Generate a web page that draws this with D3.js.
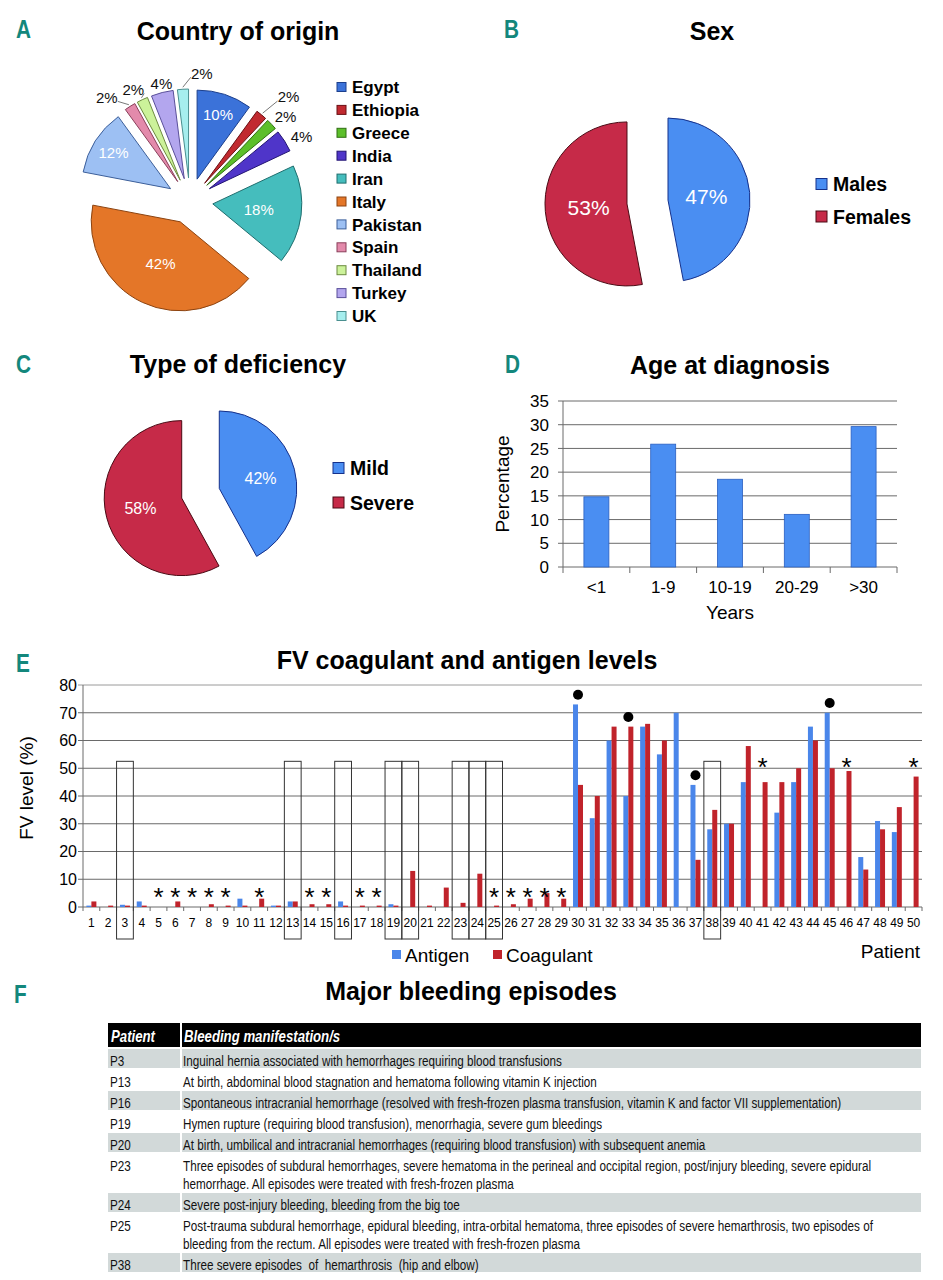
<!DOCTYPE html>
<html>
<head>
<meta charset="utf-8">
<script src="https://cdn.jsdelivr.net/npm/d3@7"></script>
<style>
  body { margin: 0; background: #fff; }
  svg { display: block; font-family: 'Liberation Sans', Arial, sans-serif; }
</style>
</head>
<body>
<svg id="fig" width="943" height="1280"></svg>
<script>
// ---- data ----
const countries = ['Egypt', 'Ethiopia', 'Greece', 'India', 'Iran', 'Italy', 'Pakistan', 'Spain', 'Thailand', 'Turkey', 'UK'];
const countryPct = [10, 2, 2, 4, 18, 42, 12, 2, 2, 4, 2];

const sexLabels = ['Males', 'Females'];
const sexPct = [47, 53];

const deficiencyLabels = ['Mild', 'Severe'];
const deficiencyPct = [42, 58];

const ageGroups = ['<1', '1-9', '10-19', '20-29', '>30'];
const agePct = [14.8, 25.9, 18.5, 11.1, 29.6];
const ageTicks = [0, 5, 10, 15, 20, 25, 30, 35];

const patients = [1, 2, 3, 4, 5, 6, 7, 8, 9, 10, 11, 12, 13, 14, 15, 16, 17, 18, 19, 20,
  21, 22, 23, 24, 25, 26, 27, 28, 29, 30, 31, 32, 33, 34, 35, 36, 37, 38, 39, 40,
  41, 42, 43, 44, 45, 46, 47, 48, 49, 50];
const antigen = [0.5, 0, 0.8, 2, 0, 0, 0, 0, 0, 3, 0, 0.5, 2, 0, 0, 2, 0, 0, 1, 0,
  0, 0, 0, 0, 0, 0, 0, 0, 0, 73, 32, 60, 40, 65, 55, 70, 44, 28, 30, 45,
  0, 34, 45, 65, 70, 0, 18, 31, 27, 0];
const coagulant = [2, 0.5, 0.5, 0.5, 0, 2, 0, 1, 0.5, 0.5, 3, 0.5, 2, 1, 1, 0.5, 0.5, 0.5, 0.5, 13,
  0.5, 7, 1.5, 12, 0.5, 1, 3, 5, 3, 44, 40, 65, 65, 66, 60, 0, 17, 35, 30, 58,
  45, 45, 50, 60, 50, 49, 13.5, 28, 36, 47];
const fvTicks = [0, 10, 20, 30, 40, 50, 60, 70, 80];
const starPatients = [5, 6, 7, 8, 9, 11, 14, 15, 17, 18, 25, 26, 27, 28, 29, 41, 46, 50];
const dotPatients = [30, 33, 37, 45];
const boxedPatients = [3, 13, 16, 19, 20, 23, 24, 25, 38];

const bleedPatients = ['P3', 'P13', 'P16', 'P19', 'P20', 'P23', 'P24', 'P25', 'P38'];
const bleedText = [
  ['Inguinal hernia associated with hemorrhages requiring blood transfusions'],
  ['At birth, abdominal blood stagnation and hematoma following vitamin K injection'],
  ['Spontaneous intracranial hemorrhage (resolved with fresh-frozen plasma transfusion, vitamin K and factor VII supplementation)'],
  ['Hymen rupture (requiring blood transfusion), menorrhagia, severe gum bleedings'],
  ['At birth, umbilical and intracranial hemorrhages (requiring blood transfusion) with subsequent anemia'],
  ['Three episodes of subdural hemorrhages, severe hematoma in the perineal and occipital region, post/injury bleeding, severe epidural',
   'hemorrhage. All episodes were treated with fresh-frozen plasma'],
  ['Severe post-injury bleeding, bleeding from the big toe'],
  ['Post-trauma subdural hemorrhage, epidural bleeding, intra-orbital hematoma, three episodes of severe hemarthrosis, two episodes of',
   'bleeding from the rectum. All episodes were treated with fresh-frozen plasma'],
  ['Three severe episodes  of  hemarthrosis  (hip and elbow)']
];

// ---- styles ----
const countryFill = ['#3b72d9', '#c12a30', '#5cbf2a', '#4f35c9', '#45bdbd', '#e47628', '#9dc0f3', '#e38aab', '#ccf29a', '#b3a6ee', '#a6eeee'];
const countryStroke = ['#1c3f8c', '#6b1014', '#2f6e12', '#231573', '#1f6e6e', '#8c4310', '#3c5f9a', '#8a3f5a', '#6c8a40', '#5a4f9a', '#4a8f8f'];
const BLUE = '#4a8ef2', BLUE_S = '#15308a', RED = '#c62a48', RED_S = '#4a0a14';
const GRID = '#6a6a6a';
const TEAL = '#13877c';

const svg = d3.select('#fig');
svg.append('rect').attr('width', 943).attr('height', 1280).attr('fill', '#fff');

// condensed text: regular face squeezed horizontally
function narrowText(g, x, y, size, str, squeeze = 0.8) {
  return g.append('text')
    .attr('transform', `translate(${x},${y}) scale(${squeeze},1)`)
    .attr('font-size', size)
    .attr('xml:space', 'preserve')
    .style('white-space', 'pre')
    .text(str);
}
function letter(t, x, y) {
  narrowText(svg, x, y, 26, t).attr('font-weight', 'bold').attr('fill', TEAL);
}
function title(t, x, y) {
  svg.append('text').attr('x', x).attr('y', y).attr('text-anchor', 'middle')
    .attr('font-size', 25).attr('font-weight', 'bold').attr('fill', '#000').text(t);
}

function drawPie(values, fills, strokes, cx, cy, r, explode) {
  const g = svg.append('g').attr('transform', `translate(${cx},${cy})`);
  const arcs = d3.pie().sort(null).value(d => d)(values);
  const arc = d3.arc().innerRadius(0).outerRadius(r);
  const off = a => {
    const m = (a.startAngle + a.endAngle) / 2;
    return [explode * Math.sin(m), -explode * Math.cos(m)];
  };
  g.selectAll('path.slice').data(arcs).join('path')
    .attr('class', 'slice')
    .attr('transform', a => `translate(${off(a)})`)
    .attr('d', arc)
    .attr('fill', (a, i) => fills[i])
    .attr('stroke', (a, i) => strokes[i])
    .attr('stroke-width', 1);
  return { g, arcs, off };
}
const polar = (ang, rad) => [rad * Math.sin(ang), -rad * Math.cos(ang)];
const mid = a => (a.startAngle + a.endAngle) / 2;

function legend(labels, fills, strokes, x, y0, step, size, fs) {
  const g = svg.append('g');
  labels.forEach((l, i) => {
    const cy = y0 + i * step;
    g.append('rect').attr('x', x).attr('y', cy - size / 2).attr('width', size).attr('height', size)
      .attr('fill', fills[i]).attr('stroke', strokes[i]).attr('stroke-width', 1);
    g.append('text').attr('x', x + size + 6).attr('y', cy).attr('dy', '0.36em')
      .attr('font-size', fs).attr('font-weight', 'bold').text(l);
  });
}

// ---- A: country of origin ----
letter('A', 16, 38);
title('Country of origin', 238, 40);
{
  const r = 89;
  const { g, arcs, off } = drawPie(countryPct, countryFill, countryStroke, 190, 201, r, 23);
  const nudge = {
    Ethiopia: [15, -3], Greece: [0, 5], India: [1, 6], Spain: [-13, 7],
    Thailand: [-1, 7], Turkey: [4, 9], UK: [20, 3]
  };
  const leaders = ['Ethiopia', 'Spain', 'Thailand', 'UK'];
  arcs.forEach((a, i) => {
    const o = off(a), m = mid(a), name = countries[i];
    if (countryPct[i] >= 8) {
      const lr = countryPct[i] < 15 ? 0.76 * r : 0.52 * r;
      const p = polar(m, lr);
      g.append('text').attr('x', o[0] + p[0]).attr('y', o[1] + p[1]).attr('dy', '0.36em')
        .attr('text-anchor', 'middle').attr('font-size', 15).attr('fill', '#fff')
        .text(countryPct[i] + '%');
    } else {
      const p = polar(m, 108), n = nudge[name] || [0, 0];
      const lx = o[0] + p[0] + n[0], ly = o[1] + p[1] + n[1];
      if (leaders.includes(name)) {
        const e = polar(m, r + 2);
        const sx = o[0] + e[0], sy = o[1] + e[1];
        const ex = lx + (lx > sx ? -11 : 11), ey = ly + 4;
        g.append('line').attr('x1', sx).attr('y1', sy).attr('x2', ex).attr('y2', ey)
          .attr('stroke', '#555').attr('stroke-width', 0.8);
      }
      g.append('text').attr('x', lx).attr('y', ly).attr('dy', '0.36em')
        .attr('text-anchor', 'middle').attr('font-size', 15).attr('fill', '#111')
        .text(countryPct[i] + '%');
    }
  });
  legend(countries, countryFill, countryStroke, 337, 87, 22.9, 9, 17);
}

// ---- B: sex ----
letter('B', 504, 38);
title('Sex', 712, 40);
{
  const r = 82;
  const { g, arcs, off } = drawPie(sexPct, [BLUE, RED], [BLUE_S, RED_S], 647.5, 202, r, 20.6);
  arcs.forEach((a, i) => {
    const o = off(a), p = polar(mid(a), 0.47 * r);
    g.append('text').attr('x', o[0] + p[0]).attr('y', o[1] + p[1]).attr('dy', '0.36em')
      .attr('text-anchor', 'middle').attr('font-size', 21).attr('fill', '#fff').text(sexPct[i] + '%');
  });
  legend(sexLabels, [BLUE, RED], [BLUE_S, RED_S], 816, 184, 32.5, 11, 19.5);
}

// ---- C: type of deficiency ----
letter('C', 16, 373);
title('Type of deficiency', 238, 373);
{
  const r = 77.5;
  const { g, arcs, off } = drawPie(deficiencyPct, [BLUE, RED], [BLUE_S, RED_S], 200.5, 493.3, r, 19.4);
  arcs.forEach((a, i) => {
    const o = off(a), p = polar(mid(a), 0.55 * r);
    g.append('text').attr('x', o[0] + p[0]).attr('y', o[1] + p[1]).attr('dy', '0.36em')
      .attr('text-anchor', 'middle').attr('font-size', 16).attr('fill', '#fff').text(deficiencyPct[i] + '%');
  });
  legend(deficiencyLabels, [BLUE, RED], [BLUE_S, RED_S], 333, 468, 34.5, 11, 19.5);
}

// ---- D: age at diagnosis ----
letter('D', 505, 373);
title('Age at diagnosis', 730, 374);
{
  const left = 563, right = 897, top = 401, bottom = 567;
  const x = d3.scaleBand().domain(ageGroups).range([left, right]).paddingInner(0.626).paddingOuter(0.313);
  const y = d3.scaleLinear().domain([0, 35]).range([bottom, top]);
  const g = svg.append('g');
  g.selectAll('line.grid').data(ageTicks).join('line').attr('class', 'grid')
    .attr('x1', left - 5).attr('x2', right).attr('y1', d => y(d)).attr('y2', d => y(d))
    .attr('stroke', GRID).attr('stroke-width', 1);
  g.append('line').attr('x1', left).attr('x2', left).attr('y1', top).attr('y2', bottom).attr('stroke', GRID);
  g.selectAll('text.yt').data(ageTicks).join('text').attr('class', 'yt')
    .attr('x', left - 14).attr('y', d => y(d)).attr('dy', '0.36em').attr('text-anchor', 'end')
    .attr('font-size', 17).text(d => d);
  const step = x.step();
  g.selectAll('line.xt').data(d3.range(ageGroups.length + 1)).join('line').attr('class', 'xt')
    .attr('x1', i => left + i * step).attr('x2', i => left + i * step)
    .attr('y1', bottom).attr('y2', bottom + 6).attr('stroke', GRID);
  g.selectAll('rect.bar').data(agePct).join('rect').attr('class', 'bar')
    .attr('x', (d, i) => x(ageGroups[i])).attr('width', x.bandwidth())
    .attr('y', d => y(d)).attr('height', d => bottom - y(d))
    .attr('fill', BLUE).attr('stroke', '#2a5fc0').attr('stroke-width', 0.8);
  g.selectAll('text.xl').data(ageGroups).join('text').attr('class', 'xl')
    .attr('x', d => x(d) + x.bandwidth() / 2).attr('y', 593).attr('text-anchor', 'middle')
    .attr('font-size', 17).text(d => d);
  g.append('text').attr('x', (left + right) / 2).attr('y', 619).attr('text-anchor', 'middle')
    .attr('font-size', 19).text('Years');
  g.append('text').attr('transform', 'translate(509,484) rotate(-90)').attr('text-anchor', 'middle')
    .attr('font-size', 19).text('Percentage');
}

// ---- E: FV coagulant and antigen levels ----
letter('E', 16, 672);
title('FV coagulant and antigen levels', 467, 669);
{
  const left = 83, right = 922, top = 685, bottom = 907;
  const x = d3.scaleBand().domain(patients).range([left, right]).paddingInner(0).paddingOuter(0);
  const xi = d3.scaleBand().domain(['antigen', 'coagulant']).range([0, x.bandwidth()]).paddingInner(0).paddingOuter(0.68);
  const y = d3.scaleLinear().domain([0, 80]).range([bottom, top]);
  const g = svg.append('g');
  g.selectAll('line.grid').data(fvTicks).join('line').attr('class', 'grid')
    .attr('x1', left - 5).attr('x2', right).attr('y1', d => y(d)).attr('y2', d => y(d))
    .attr('stroke', d => d === 80 ? '#9a9a9a' : GRID).attr('stroke-width', 1);
  g.append('line').attr('x1', left).attr('x2', left).attr('y1', top).attr('y2', bottom).attr('stroke', GRID);
  g.selectAll('text.yt').data(fvTicks).join('text').attr('class', 'yt')
    .attr('x', left - 6).attr('y', d => y(d)).attr('dy', '0.36em').attr('text-anchor', 'end')
    .attr('font-size', 16).text(d => d);
  g.selectAll('line.xt').data(d3.range(patients.length + 1)).join('line').attr('class', 'xt')
    .attr('x1', i => left + i * x.step()).attr('x2', i => left + i * x.step())
    .attr('y1', bottom).attr('y2', bottom + 4).attr('stroke', GRID);

  // boxes marking patients with major bleeding
  g.selectAll('rect.box').data(boxedPatients).join('rect').attr('class', 'box')
    .attr('x', p => x(p)).attr('width', x.bandwidth())
    .attr('y', y(52.5)).attr('height', 939 - y(52.5))
    .attr('fill', 'none').attr('stroke', '#333').attr('stroke-width', 1);

  const series = [['antigen', antigen, '#4a86ea'], ['coagulant', coagulant, '#c0232b']];
  series.forEach(([key, vals, col]) => {
    g.selectAll('rect.' + key).data(vals).join('rect').attr('class', key)
      .attr('x', (d, i) => x(patients[i]) + xi(key)).attr('width', xi.bandwidth())
      .attr('y', d => y(d)).attr('height', d => bottom - y(d)).attr('fill', col);
  });

  g.selectAll('text.xl').data(patients).join('text').attr('class', 'xl')
    .attr('x', p => x(p) + x.bandwidth() / 2).attr('y', 927).attr('text-anchor', 'middle')
    .attr('font-size', 12).text(p => p);

  const peak = p => Math.max(antigen[p - 1], coagulant[p - 1]);
  g.selectAll('text.star').data(starPatients).join('text').attr('class', 'star')
    .attr('x', p => x(p) + x.bandwidth() / 2).attr('y', p => y(peak(p) > 20 ? 52.4 : 5.6) + 14.5)
    .attr('text-anchor', 'middle').attr('font-size', 26).attr('fill', '#000').text('*');
  g.selectAll('circle.dot').data(dotPatients).join('circle').attr('class', 'dot')
    .attr('cx', p => x(p) + x.bandwidth() / 2).attr('cy', p => y(peak(p) + 3.5))
    .attr('r', 5).attr('fill', '#000');

  g.append('text').attr('transform', 'translate(33,788) rotate(-90)').attr('text-anchor', 'middle')
    .attr('font-size', 19).text('FV level (%)');
  g.append('rect').attr('x', 392).attr('y', 950).attr('width', 9).attr('height', 9).attr('fill', '#4a86ea');
  g.append('text').attr('x', 405).attr('y', 962).attr('font-size', 19).text('Antigen');
  g.append('rect').attr('x', 493).attr('y', 950).attr('width', 9).attr('height', 9).attr('fill', '#c0232b');
  g.append('text').attr('x', 506).attr('y', 962).attr('font-size', 19).text('Coagulant');
  g.append('text').attr('x', 920).attr('y', 958).attr('text-anchor', 'end').attr('font-size', 19).text('Patient');
}

// ---- F: major bleeding episodes ----
letter('F', 14, 1003);
title('Major bleeding episodes', 471, 1000);
{
  const x0 = 108, xs = 180, x1 = 921;
  const fs = 15, squeeze = 0.78;
  const g = svg.append('g');
  g.append('rect').attr('x', x0).attr('y', 1023).attr('width', xs - x0).attr('height', 24).attr('fill', '#000');
  g.append('rect').attr('x', xs + 2).attr('y', 1023).attr('width', x1 - xs - 2).attr('height', 24).attr('fill', '#000');
  narrowText(g, 111, 1041.5, 16.5, 'Patient')
    .attr('font-weight', 'bold').attr('font-style', 'italic').attr('fill', '#fff');
  narrowText(g, 184, 1041.5, 16.5, 'Bleeding manifestation/s')
    .attr('font-weight', 'bold').attr('font-style', 'italic').attr('fill', '#fff');
  let top = 1049;
  bleedPatients.forEach((p, i) => {
    const lines = bleedText[i];
    const h = 3 + 18 * lines.length;
    if (i % 2 === 0) {
      g.append('rect').attr('x', x0).attr('y', top).attr('width', xs - x0).attr('height', h - 2).attr('fill', '#d2d9d9');
      g.append('rect').attr('x', xs + 2).attr('y', top).attr('width', x1 - xs - 2).attr('height', h - 2).attr('fill', '#d2d9d9');
    }
    narrowText(g, 110, top + 17, fs, p, squeeze).attr('fill', '#111');
    lines.forEach((l, k) => narrowText(g, 183, top + 17 + 18 * k, fs, l, squeeze).attr('fill', '#111'));
    top += h;
  });
}
</script>
</body>
</html>
